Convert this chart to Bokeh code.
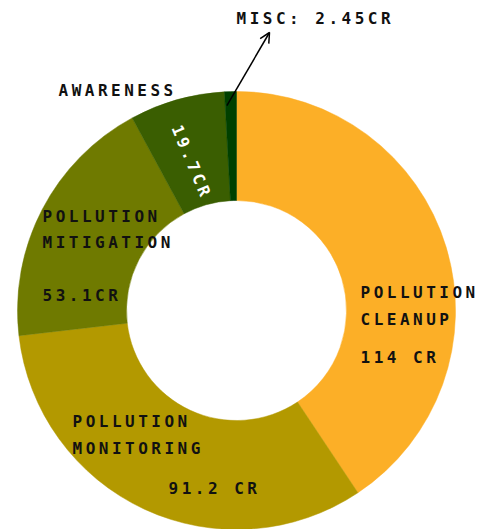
import numpy as np
from bokeh.plotting import figure
from bokeh.models import Range1d, Arrow, OpenHead, ColumnDataSource
from bokeh.core.properties import value
from bokeh.embed import file_html
from bokeh.resources import INLINE

# ---- data ----
categories = ["Pollution Cleanup", "Pollution Monitoring", "Pollution Mitigation", "Awareness", "Misc"]
amounts = [114, 91.2, 53.1, 19.7, 2.45]
value_labels = ["114 CR", "91.2 CR", "53.1CR", "19.7CR", "MISC: 2.45CR"]
colors = ["#FCAF27", "#B39900", "#6F7A00", "#3A5E01", "#004000"]

# ---- layout ----
W, H = 488, 529
cx, cy = 236, -310
r_in, r_out = 110, 219

p = figure(width=W, height=H, x_range=Range1d(0, W), y_range=Range1d(-H, 0),
           output_backend="svg", toolbar_location=None, min_border=0,
           x_axis_type=None, y_axis_type=None, outline_line_color=None)
p.grid.visible = False
p.background_fill_color = "white"
p.border_fill_color = "white"
p.styles = {"letter-spacing": "3.5px"}

amt = np.array(amounts, dtype=float)
frac = amt / amt.sum()
cum = np.concatenate([[0.0], np.cumsum(frac)])
start = np.pi / 2 - cum[:-1] * 2 * np.pi
end = np.pi / 2 - cum[1:] * 2 * np.pi

src = ColumnDataSource(dict(cat=categories, start=start, end=end, color=colors))
p.annular_wedge(x=cx, y=cy, inner_radius=r_in, outer_radius=r_out,
                start_angle="start", end_angle="end", direction="clock",
                fill_color="color", line_color="color", line_width=0.5, source=src)

font = value("DejaVu Sans Mono")

# dark labels (left x, vertical centre y in page pixels)
texts = ["POLLUTION", "CLEANUP", value_labels[0],
         "POLLUTION", "MONITORING", value_labels[1],
         "POLLUTION", "MITIGATION", value_labels[2],
         "AWARENESS", value_labels[4]]
xs = [360, 360, 360,
      72, 72, 168,
      42, 42, 42,
      58, 236]
ys = [292, 319, 357,
      421, 448, 488,
      216, 242, 295,
      90, 18]
p.text(x=xs, y=[-v for v in ys], text=texts, text_font=font, text_font_size="16px",
       text_font_style="bold", text_color="#111111", text_baseline="middle",
       text_align="left")

# rotated white value in the awareness slice
p.text(x=[187], y=[-152], text=[value_labels[3]], text_font=font, text_font_size="16px",
       text_font_style="bold", text_color="white", text_baseline="middle",
       text_align="center", angle=[-67], angle_units="deg")

# arrow from misc slice to its label
mid = np.pi / 2 - (cum[-2] + cum[-1]) / 2 * 2 * np.pi
ax0 = cx + 205 * np.cos(mid)
ay0 = cy + 205 * np.sin(mid)
p.add_layout(Arrow(end=OpenHead(size=10, line_width=1.5, line_color="black"),
                   x_start=ax0 - 4, y_start=ay0, x_end=269, y_end=-32,
                   line_width=1.5, line_color="black"))

open("out.html", "w").write(file_html(p, INLINE))
